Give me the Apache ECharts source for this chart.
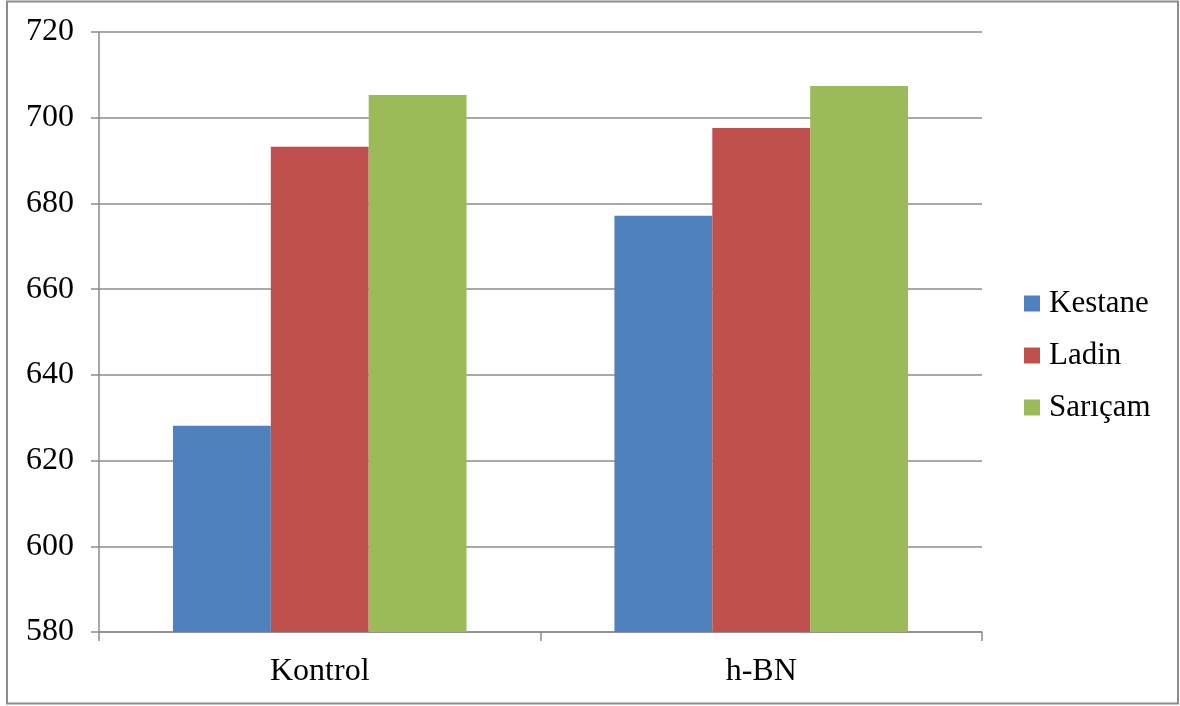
<!DOCTYPE html>
<html>
<head>
<meta charset="utf-8">
<script src="https://cdn.jsdelivr.net/npm/echarts@6/dist/echarts.min.js"></script>
<style>
  html, body { margin: 0; padding: 0; background: #fff; }
  #chart { width: 1180px; height: 706px; }
</style>
</head>
<body>
<div id="chart"></div>
<script>
// Groups along the x axis
const categories = ['Kontrol', 'h-BN'];
// Series values per group
const kestane = [628.1, 677.1];
const ladin = [693.2, 697.6];
const saricam = [705.3, 707.4];
// Y-axis tick labels
const yTicks = [580, 600, 620, 640, 660, 680, 700, 720];

const FONT = '"Liberation Serif", "DejaVu Serif", serif';
const GRAY = '#8c8c8c';

const chart = echarts.init(document.getElementById('chart'));

function barSeries(name, data, color) {
  return {
    name: name,
    type: 'bar',
    data: data,
    barGap: '0%',
    barCategoryGap: '33.5%',
    itemStyle: { color: color },
    emphasis: { disabled: true }
  };
}

chart.setOption({
  animation: false,
  backgroundColor: '#ffffff',
  textStyle: { fontFamily: FONT },
  graphic: [{
    type: 'rect',
    shape: { x: 7, y: 1.5, width: 1171, height: 702 },
    style: { fill: 'none', stroke: GRAY, lineWidth: 2 },
    silent: true
  }],
  grid: { left: 99, right: 198, top: 32, bottom: 74, containLabel: false },
  legend: {
    orient: 'vertical',
    left: 1019,
    top: 283,
    itemWidth: 16,
    itemHeight: 16,
    itemGap: 21,
    icon: 'rect',
    textStyle: { fontFamily: FONT, fontSize: 31, color: '#000', padding: [0, 0, 0, 4] },
    data: ['Kestane', 'Ladin', 'Sarıçam']
  },
  xAxis: {
    type: 'category',
    data: categories,
    axisLine: { lineStyle: { color: GRAY, width: 1.5 } },
    axisTick: { show: true, alignWithLabel: false, length: 9, lineStyle: { color: GRAY, width: 1.5 } },
    axisLabel: { fontFamily: FONT, fontSize: 32, color: '#000', margin: 24 }
  },
  yAxis: {
    type: 'value',
    min: yTicks[0],
    max: yTicks[yTicks.length - 1],
    interval: 20,
    axisLine: { show: true, lineStyle: { color: GRAY, width: 1.5 } },
    axisTick: { show: true, length: 8, lineStyle: { color: GRAY, width: 1.5 } },
    axisLabel: { fontFamily: FONT, fontSize: 32, color: '#000', margin: 25 },
    splitLine: { show: true, lineStyle: { color: GRAY, width: 1.5 } }
  },
  series: [
    barSeries('Kestane', kestane, '#4f81bd'),
    barSeries('Ladin', ladin, '#c0504d'),
    barSeries('Sarıçam', saricam, '#9bbb59')
  ]
});
</script>
</body>
</html>
